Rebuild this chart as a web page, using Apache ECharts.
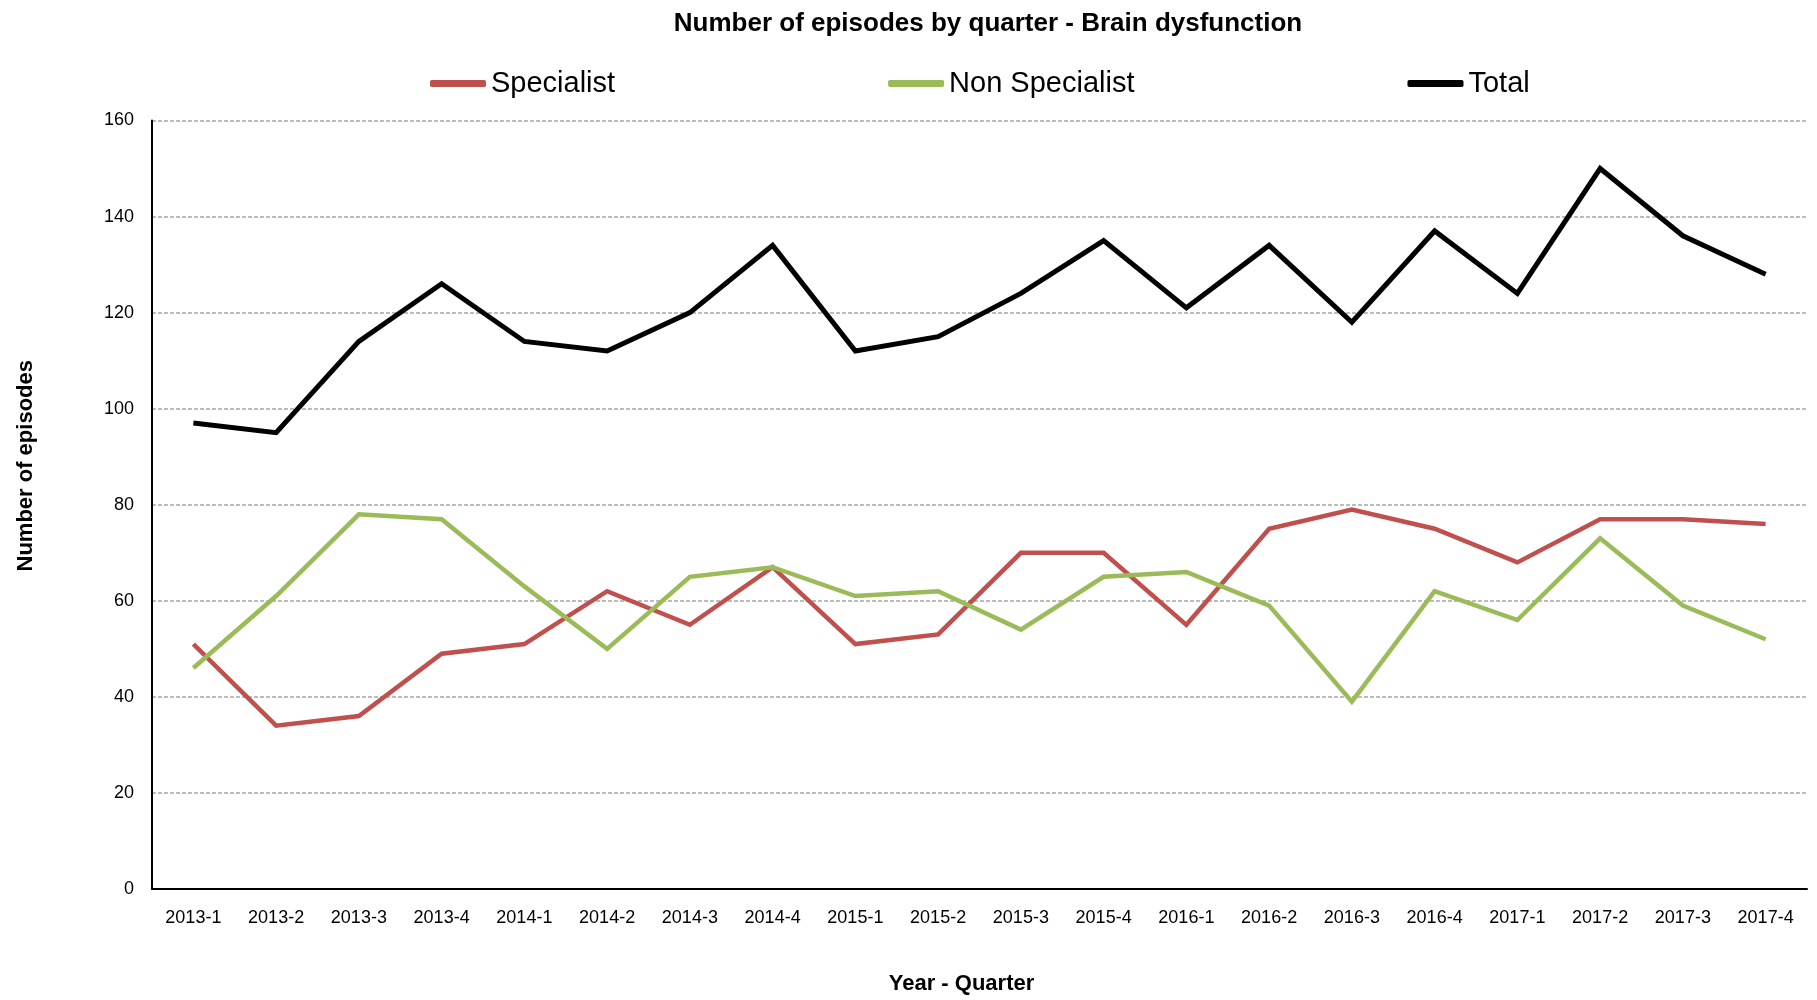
<!DOCTYPE html>
<html>
<head>
<meta charset="utf-8">
<script src="https://cdn.jsdelivr.net/npm/echarts@6/dist/echarts.min.js"></script>
<style>
html,body{margin:0;padding:0;background:#fff;overflow:hidden;}
#c{width:1817px;height:1000px;}
</style>
</head>
<body>
<div id="c"></div>
<script>
const categories = ['2013-1','2013-2','2013-3','2013-4','2014-1','2014-2','2014-3','2014-4','2015-1','2015-2','2015-3','2015-4','2016-1','2016-2','2016-3','2016-4','2017-1','2017-2','2017-3','2017-4'];
const specialist = [51,34,36,49,51,62,55,67,51,53,70,70,55,75,79,75,68,77,77,76];
const nonSpecialist = [46,61,78,77,63,50,65,67,61,62,54,65,66,59,39,62,56,73,59,52];
const total = [97,95,114,126,114,112,120,134,112,115,124,135,121,134,118,137,124,150,136,128];
const seriesNames = ['Specialist','Non Specialist','Total'];
const seriesColors = ['#C0504D','#9BBB59','#000000'];

const FONT = "'Liberation Sans',Arial,sans-serif";

const chart = echarts.init(document.getElementById('c'), null, {renderer:'canvas', width:1817, height:1000});
const dataSets = [specialist, nonSpecialist, total];
chart.setOption({
  animation:false,
  backgroundColor:'#fff',
  title:{
    text:'Number of episodes by quarter - Brain dysfunction',
    left:983, top:6, textAlign:'center',
    textStyle:{fontFamily:FONT, fontWeight:'bold', fontSize:26, color:'#000'}
  },
  legend:{
    left:425, top:64,
    itemWidth:56, itemHeight:7, itemGap:273,
    icon:'roundRect',
    textStyle:{fontFamily:FONT, fontSize:29, color:'#000'},
    data:seriesNames
  },
  grid:{left:152, right:10, top:120.5, height:772, containLabel:false},
  xAxis:{
    type:'category', data:categories, boundaryGap:true,
    axisLine:{lineStyle:{color:'#000', width:2}},
    axisTick:{show:false},
    axisLabel:{fontFamily:FONT, fontSize:18, color:'#000', margin:20, interval:0},
    name:'Year - Quarter', nameLocation:'middle', nameGap:84,
    nameTextStyle:{fontFamily:FONT, fontWeight:'bold', fontSize:22, color:'#000', padding:[0,36,0,0]}
  },
  yAxis:{
    type:'value', min:0, max:160, interval:20,
    axisLine:{show:true, lineStyle:{color:'#000', width:2}},
    axisTick:{show:false},
    axisLabel:{fontFamily:FONT, fontSize:18, color:'#000', margin:18},
    splitLine:{show:true, lineStyle:{color:'#a6a6a6', width:1.5, type:[4,2]}},
    name:'Number of episodes', nameLocation:'middle', nameGap:115, nameRotate:90,
    nameTextStyle:{fontFamily:FONT, fontWeight:'bold', fontSize:22, color:'#000', padding:[0,0,0,78]}
  },
  series: seriesNames.map((n,i)=>({
    name:n, type:'line', data:dataSets[i],
    symbol:'none', showSymbol:false,
    lineStyle:{color:seriesColors[i], width: i===2?5:4.5, join:'miter'},
    itemStyle:{color:seriesColors[i]},
    z: 2+i
  }))
});
</script>
</body>
</html>
